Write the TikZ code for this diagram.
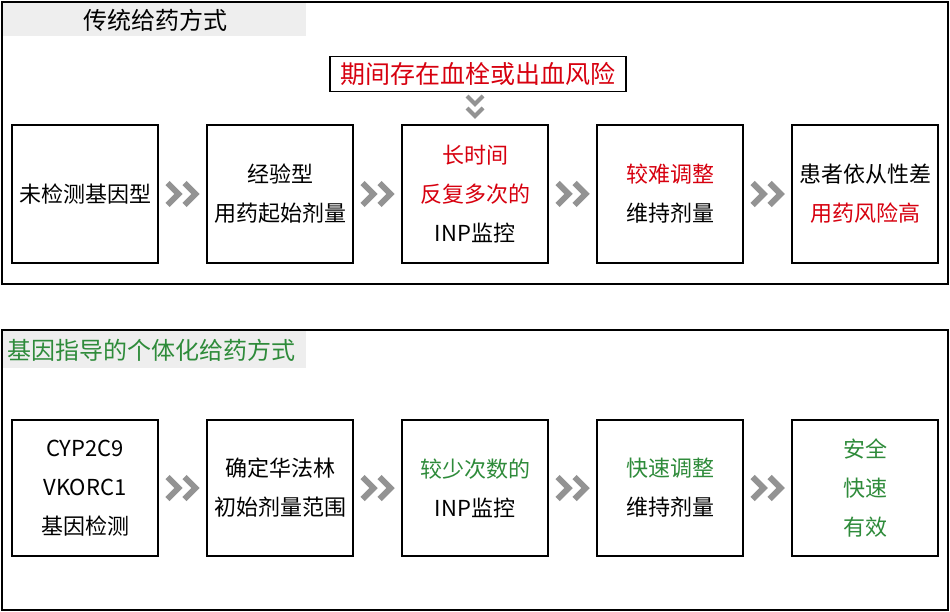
\documentclass[tikz,border=0pt]{standalone}
\usepackage{fontspec}
\setmainfont{Noto Sans CJK SC}
\usetikzlibrary{calc}
\definecolor{hred}{HTML}{D7000F}
\definecolor{hgreen}{HTML}{2E8B3A}
\definecolor{hgray}{HTML}{EEEEEE}
\tikzset{
  stepbox/.style={draw,line width=1.5pt,minimum width=146pt,minimum height=138pt,align=center,font=\fontsize{22pt}{39pt}\selectfont,inner sep=2pt},
  frame/.style={draw,line width=1.5pt},
  chev/.style={draw=gray!85,line width=6pt,line join=miter}
}
\newcommand\chevr[1]{%
\draw[chev] ($(#1)+(-15,-11)$) -- ($(#1)+(-4,0)$) -- ($(#1)+(-15,11)$);
\draw[chev] ($(#1)+(2,-11)$) -- ($(#1)+(13,0)$) -- ($(#1)+(2,11)$);}
\begin{document}
\begin{tikzpicture}[x=1pt,y=-1pt]
\useasboundingbox (0,0) rectangle (950,612);
\fill[white] (0,0) rectangle (950,612);

% traditional dosing
\draw[frame] (2,2) rectangle (948,284);
\fill[hgray] (3,3) rectangle (306,36);
\node[font=\fontsize{24pt}{28pt}\selectfont] (t1) at (155,20) {传统给药方式};
\node[draw,line width=1.5pt,minimum width=296pt,minimum height=35pt,text=hred,font=\fontsize{25pt}{28pt}\selectfont] (risk) at (478,74) {期间存在血栓或出血风险};
\coordinate (dn) at (475,107);
\draw[chev,line width=4pt] ($(dn)+(-8,-11)$) -- ($(dn)+(0,-3)$) -- ($(dn)+(8,-11)$);
\draw[chev,line width=4pt] ($(dn)+(-8,1)$) -- ($(dn)+(0,9)$) -- ($(dn)+(8,1)$);

\node[stepbox] (a1) at (85,194) {未检测基因型};
\node[stepbox] (a2) at (280,194) {经验型\\用药起始剂量};
\node[stepbox] (a3) at (475,194) {\textcolor{hred}{长时间}\\\textcolor{hred}{反复多次的}\\INP监控};
\node[stepbox] (a4) at (670,194) {\textcolor{hred}{较难调整}\\维持剂量};
\node[stepbox] (a5) at (865,194) {患者依从性差\\\textcolor{hred}{用药风险高}};
\foreach \i/\j in {a1/a2,a2/a3,a3/a4,a4/a5}
{\coordinate (m) at ($(\i.east)!0.5!(\j.west)$); \chevr{m}}

% genotype-guided dosing
\draw[frame] (2,330) rectangle (948,610);
\fill[hgray] (3,331) rectangle (306,368);
\node[anchor=west,text=hgreen,font=\fontsize{24pt}{28pt}\selectfont] (t2) at (4,350) {基因指导的个体化给药方式};

\node[stepbox,minimum height=136pt] (b1) at (85,488) {CYP2C9\\VKORC1\\基因检测};
\node[stepbox,minimum height=136pt] (b2) at (280,488) {确定华法林\\初始剂量范围};
\node[stepbox,minimum height=136pt] (b3) at (475,488) {\textcolor{hgreen}{较少次数的}\\INP监控};
\node[stepbox,minimum height=136pt] (b4) at (670,488) {\textcolor{hgreen}{快速调整}\\维持剂量};
\node[stepbox,minimum height=136pt,text=hgreen] (b5) at (865,488) {安全\\快速\\有效};
\foreach \i/\j in {b1/b2,b2/b3,b3/b4,b4/b5}
{\coordinate (m) at ($(\i.east)!0.5!(\j.west)$); \chevr{m}}
\end{tikzpicture}
\end{document}
